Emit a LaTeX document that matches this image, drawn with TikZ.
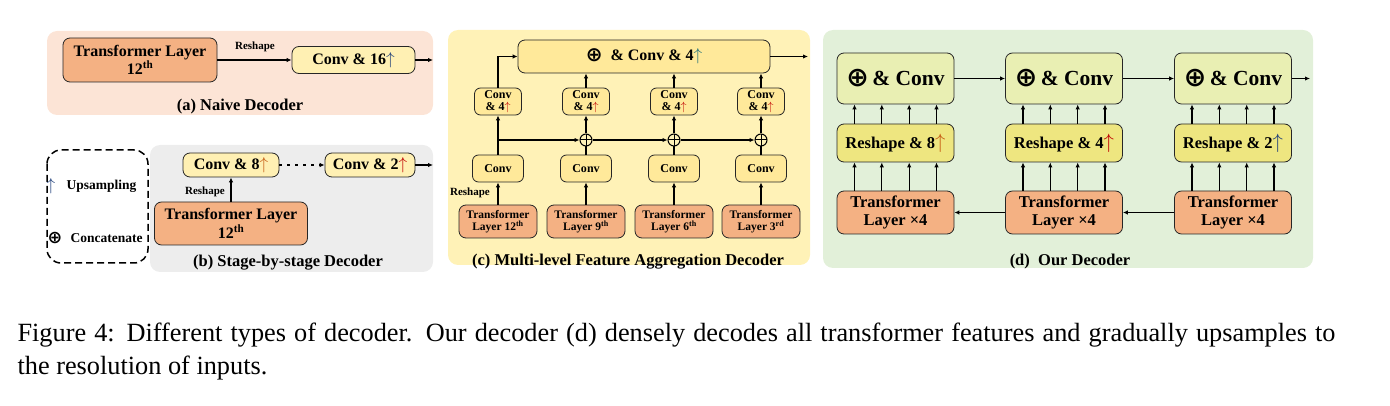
\documentclass[tikz,border=0pt]{standalone}
\usepackage{fontspec}
\setmainfont{Liberation Serif}
\newfontfamily\symfont{DejaVu Sans}
\usetikzlibrary{arrows.meta,positioning}
\definecolor{panelA}{HTML}{FCE4D6}
\definecolor{panelB}{HTML}{EDEDED}
\definecolor{panelC}{HTML}{FFF2B7}
\definecolor{panelD}{HTML}{E2F0D9}
\definecolor{tforange}{HTML}{F4B183}
\definecolor{convyellow}{HTML}{FFF0B3}
\definecolor{convC}{HTML}{FFE99A}
\definecolor{topDcol}{HTML}{E9EFB3}
\definecolor{reshDcol}{HTML}{EEE680}
\definecolor{navyup}{HTML}{1F3F7A}
\definecolor{orangeup}{HTML}{C55A11}
\definecolor{redup}{HTML}{C00000}
\definecolor{tealup}{HTML}{1F6F78}
\newcommand{\upar}[1]{\textcolor{#1}{$\uparrow$}}
\newcommand{\bplus}{\raisebox{-0.1ex}{\scalebox{1.25}{\symfont\bfseries ⊕}}}

\begin{document}
\begin{tikzpicture}[x=1pt,y=-1pt,>={Latex[length=5pt,width=4.5pt]},line width=1.1pt,
    box/.style={draw=black!85,line width=0.8pt,rounded corners=7pt,align=center,inner sep=0pt,
                font=\fontsize{16}{17}\selectfont\bfseries},
    trans/.style={box,fill=tforange},
    conv/.style={box,fill=convyellow},
    convS/.style={box,fill=convC,rounded corners=6pt,font=\fontsize{12}{12.5}\selectfont\bfseries},
    transC/.style={box,fill=tforange,minimum width=78pt,minimum height=33pt,
                   font=\fontsize{11.5}{12.5}\selectfont\bfseries},
    topD/.style={box,fill=topDcol,minimum width=117pt,minimum height=51pt,
                 font=\fontsize{21.5}{22}\selectfont\bfseries},
    reshD/.style={box,fill=reshDcol,minimum width=117pt,minimum height=38pt,
                  font=\fontsize{16.5}{17}\selectfont\bfseries},
    transD/.style={box,fill=tforange,minimum width=117pt,minimum height=43pt,
                   font=\fontsize{16.5}{18}\selectfont\bfseries},
    plus/.style={circle,draw,line width=1pt,minimum size=12pt,inner sep=0pt,fill=panelC,
                 path picture={\draw[line width=1pt] (path picture bounding box.north) -- (path picture bounding box.south)
                                 (path picture bounding box.west) -- (path picture bounding box.east);}},
    lbl/.style={inner sep=1pt,font=\fontsize{11}{12}\selectfont\bfseries},
    lgd/.style={inner sep=0pt,font=\fontsize{13.5}{14}\selectfont\bfseries},
    subcap/.style={inner sep=0pt,font=\fontsize{16.5}{18}\selectfont\bfseries},
    figcap/.style={inner sep=0pt,anchor=west,font=\fontsize{26.3}{28}\selectfont}]

  \useasboundingbox (0,0) rectangle (1390,406);

  % panels
  \fill[panelA,rounded corners=10pt] (47,31) rectangle (433,115);
  \fill[panelB,rounded corners=10pt] (150,145) rectangle (433,272);
  \fill[panelC,rounded corners=10pt] (448,30) rectangle (810,265);
  \fill[panelD,rounded corners=10pt] (823,30) rectangle (1313,268);
  \draw[line width=1.5pt,dash pattern=on 7pt off 4pt,rounded corners=14pt] (47,150) rectangle (148,263);

  % (a) naive
  \node[trans,minimum width=154pt,minimum height=44pt] (tA) at (140,60) {Transformer Layer\\12\textsuperscript{th}};
  \node[conv,minimum width=123pt,minimum height=27pt]  (cA) at (353.5,60) {Conv \& 16\upar{navyup}};
  \node[lbl] (rA) at (255,47) {Reshape};
  \coordinate (oA) at (433,60);
  \draw[->] (tA) -- (cA);
  \draw[->] (cA) -- (oA);
  \node[subcap] (capA) at (240,107) {(a) Naive Decoder};

  % (b) stage by stage
  \node[conv,minimum width=96pt,minimum height=24pt]   (cB1) at (231,165) {Conv \& 8\upar{orangeup}};
  \node[conv,minimum width=90pt,minimum height=24pt]   (cB2) at (370,165) {Conv \& 2\upar{redup}};
  \node[trans,minimum width=153pt,minimum height=43pt] (tB)  at (231,223.5) {Transformer Layer\\12\textsuperscript{th}};
  \node[lbl] (rB) at (205,192) {Reshape};
  \coordinate (oB) at (433,165);
  \draw[->] (tB) -- (cB1);
  \draw[->,dash pattern=on 3pt off 5pt] (cB1) -- (cB2);
  \draw[->] (cB2) -- (oB);
  \node[subcap] (capB) at (288,263) {(b) Stage-by-stage Decoder};

  % legend
  \node[inner sep=0pt,font=\fontsize{19}{19}\selectfont] (lu) at (51,186) {\upar{navyup}};
  \node[lgd,anchor=west] (lU) at (66,186) {Upsampling};
  \node[inner sep=0pt,font=\fontsize{14}{14}\selectfont] (lc) at (55,238) {\bplus};
  \node[lgd,anchor=west] (lC) at (70,238) {Concatenate};

  % (c) multi-level aggregation
  \node[box,fill=convC,minimum width=252pt,minimum height=33pt] (tC) at (644,56.5) {\bplus\ \ \& Conv \& 4\upar{tealup}};
  \foreach \i/\x/\n in {1/498/12\textsuperscript{th},2/586/9\textsuperscript{th},3/674/6\textsuperscript{th},4/761/3\textsuperscript{rd}}
  {
    \node[transC] (trC\i) at (\x,221.5) {Transformer\\Layer \n};
    \node[convS,minimum width=51pt,minimum height=27pt] (ccC\i) at (\x,168.5) {Conv};
    \node[convS,minimum width=47pt,minimum height=27pt] (scC\i) at (\x,101.5) {Conv\\\& 4\upar{redup}};
    \draw[->] (trC\i) -- (ccC\i);
  }
  \node[plus] (pC2) at (586,140) {};
  \node[plus] (pC3) at (674,140) {};
  \node[plus] (pC4) at (761,140) {};
  \coordinate (jC) at (498,140);
  \coordinate (oC) at (808,56.5);
  \draw[->] (ccC1) -- (scC1);
  \draw[->] (jC) -- (pC2);
  \draw[->] (pC2) -- (pC3);
  \draw[->] (pC3) -- (pC4);
  \foreach \i in {2,3,4}
  {
    \draw (ccC\i) -- (pC\i);
    \draw[->] (pC\i) -- (scC\i);
    \draw[->] (scC\i) -- (scC\i |- tC.south);
  }
  \draw[->] (scC1) |- (tC);
  \draw[->] (tC) -- (oC);
  \node[lbl] (rC) at (470,193) {Reshape};
  \node[subcap] (capC) at (628,262) {(c) Multi-level Feature Aggregation Decoder};

  % (d) ours
  \foreach \i/\x/\k/\c in {1/895.5/8/orangeup,2/1064/4/redup,3/1233/2/navyup}
  {
    \node[topD]   (tpD\i) at (\x,78.5) {\bplus\,\& Conv};
    \node[reshD]  (rsD\i) at (\x,143)  {Reshape \& \k{\fontsize{21}{21}\selectfont\upar{\c}}};
    \node[transD] (trD\i) at (\x,212.5) {Transformer\\Layer ×4};
    \foreach \d in {-41,-13.7,13.7,41}
    {
      \draw[->] ([xshift=\d pt]trD\i.north) -- ([xshift=\d pt]rsD\i.south);
      \draw[->] ([xshift=\d pt]rsD\i.north) -- ([xshift=\d pt]tpD\i.south);
    }
  }
  \coordinate (oD) at (1310,78.5);
  \draw[->] (tpD1) -- (tpD2);
  \draw[->] (tpD2) -- (tpD3);
  \draw[->] (tpD3) -- (oD);
  \draw[->] (trD3) -- (trD2);
  \draw[->] (trD2) -- (trD1);
  \node[subcap] (capD) at (1070,262) {(d)\ \ Our Decoder};

  % figure caption
  \node[figcap] (fc1) at (17,335) {\makebox[1318pt][s]{Figure 4: Different types of decoder. Our decoder (d) densely decodes all transformer features and gradually upsamples to}};
  \node[figcap] (fc2) at (17,368) {the resolution of inputs.};
\end{tikzpicture}
\end{document}
